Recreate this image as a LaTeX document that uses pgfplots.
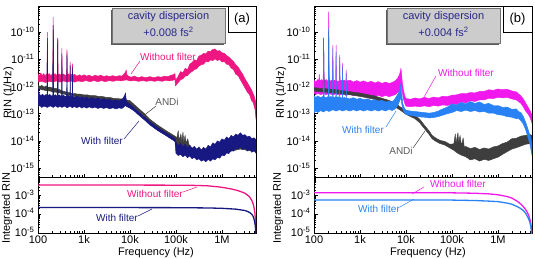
\documentclass[border=0pt]{standalone}
\usepackage{fontspec}
\setmainfont{Liberation Sans}
\usepackage{pgfplots}
\pgfplotsset{compat=1.18}

\definecolor{pinkA}{RGB}{238,22,128}
\definecolor{navyA}{RGB}{24,24,130}
\definecolor{andi}{RGB}{62,62,62}
\definecolor{magB}{RGB}{240,24,236}
\definecolor{blueB}{RGB}{40,130,245}
\definecolor{boxtext}{RGB}{40,40,140}
\definecolor{boxfill}{RGB}{204,204,204}

\pgfplotsset{
  every axis/.append style={
    scale only axis, width=218pt,
    axis line style={line width=0.8pt},
    tick pos=left, tick align=inside,
    major tick length=3.5pt, minor tick length=2pt,
    every tick/.append style={line width=0.5pt, black},
    tick label style={font=\fontsize{11}{12}\selectfont},
    xticklabel style={inner sep=2.4pt},
  },
}

\begin{document}
\begin{tikzpicture}
\useasboundingbox (0pt,0pt) rectangle (535pt,258pt);

% ---------------- panel (a): RIN spectra ----------------
\begin{axis}[at={(38pt,81pt)}, anchor=south west, height=171pt,
    xmode=log, ymode=log, xmin=100, xmax=5.5e6, ymin=4.7e-16, ymax=9.1e-10,
    xtick={1e2,1e3,1e4,1e5,1e6},
    minor xtick={200,300,400,500,600,700,800,900,2000,3000,4000,5000,6000,7000,8000,9000,
      2e4,3e4,4e4,5e4,6e4,7e4,8e4,9e4,2e5,3e5,4e5,5e5,6e5,7e5,8e5,9e5,2e6,3e6,4e6,5e6},
    xticklabels={},
    ytick={1e-15,1e-14,1e-13,1e-12,1e-11,1e-10},
    yticklabels={10\textsuperscript{-15},10\textsuperscript{-14},10\textsuperscript{-13},
      10\textsuperscript{-12},10\textsuperscript{-11},10\textsuperscript{-10}},
    minor ytick={5e-16,6e-16,7e-16,8e-16,9e-16,
      2e-15,3e-15,4e-15,5e-15,6e-15,7e-15,8e-15,9e-15,
      2e-14,3e-14,4e-14,5e-14,6e-14,7e-14,8e-14,9e-14,
      2e-13,3e-13,4e-13,5e-13,6e-13,7e-13,8e-13,9e-13,
      2e-12,3e-12,4e-12,5e-12,6e-12,7e-12,8e-12,9e-12,
      2e-11,3e-11,4e-11,5e-11,6e-11,7e-11,8e-11,9e-11,
      2e-10,3e-10,4e-10,5e-10,6e-10,7e-10,8e-10,9e-10}]
% without filter
\addplot[draw=pinkA, fill=pinkA, line width=0.45pt, line join=round] coordinates {
(100,3.0e-12)(107,2.4e-12)(115,3.1e-12)(124,2.5e-12)(133,3.0e-12)(143,2.4e-12)(152,2.9e-12)(157,2.6e-12)(160,1.0e-10)(163,2.6e-12)
(175,3.0e-12)(190,2.5e-12)(205,2.9e-12)(210,2.6e-12)(214,3.5e-10)(218,2.6e-12)(235,3.0e-12)(250,2.5e-12)(264,2.9e-12)(269,6.0e-11)(274,2.6e-12)
(295,2.9e-12)(315,2.5e-12)(325,2.8e-12)(331,2.5e-11)(337,2.6e-12)(360,2.9e-12)(390,2.5e-12)(420,2.8e-12)(427,2.3e-11)(434,2.6e-12)
(460,2.9e-12)(480,2.5e-12)(495,2.7e-12)(501,8.0e-12)(507,2.6e-12)(530,2.8e-12)(555,2.5e-12)(562,7.0e-12)(569,2.6e-12)
(620,2.8e-12)(700,2.4e-12)(800,2.7e-12)(900,2.4e-12)(1000,2.7e-12)(1150,2.4e-12)(1300,2.6e-12)(1500,2.3e-12)(1750,2.6e-12)(2000,2.4e-12)
(2300,2.6e-12)(2700,2.3e-12)(3100,2.5e-12)(3600,2.3e-12)(4200,2.5e-12)(5000,2.3e-12)(5800,2.5e-12)(6600,2.4e-12)(7300,2.8e-12)(7900,3.3e-12)
(8300,4.0e-12)(8500,2.8e-12)(9300,2.4e-12)(10500,2.2e-12)(12500,2.4e-12)(15000,2.1e-12)(18000,2.3e-12)(22000,2.1e-12)(27000,2.3e-12)
(33000,2.1e-12)(40000,2.3e-12)(48000,2.2e-12)(57000,2.4e-12)(67000,2.3e-12)(78000,2.6e-12)(88000,2.7e-12)(95000,3.0e-12)
(97700,1.66e-12)(112200,2.4e-12)(125900,3.55e-12)(141300,3.16e-12)(158500,4.68e-12)(177800,4.17e-12)(199500,6.61e-12)(223900,7.59e-12)
(251200,9.55e-12)(281800,8.91e-12)(316200,1.32e-11)(354800,1.41e-11)(398100,1.66e-11)(446700,1.58e-11)(501200,2.0e-11)(562300,1.91e-11)
(631000,2.29e-11)(707900,2.4e-11)(794300,2.0e-11)(891300,2.09e-11)(1.0e6,1.74e-11)(1.122e6,1.66e-11)(1.259e6,1.38e-11)(1.413e6,1.2e-11)
(1.585e6,1.0e-11)(1.778e6,8.32e-12)(1.995e6,6.31e-12)(2.239e6,5.25e-12)(2.512e6,3.8e-12)(2.818e6,2.82e-12)(3.162e6,1.91e-12)
(3.548e6,1.41e-12)(3.981e6,1.0e-12)(4.467e6,7.08e-13)(5.012e6,4.47e-13)(5.495e6,2.51e-13)
(5.495e6,6.31e-14)(5.248e6,1.41e-13)(4.786e6,2.51e-13)(4.365e6,3.16e-13)(3.981e6,5.01e-13)(3.548e6,6.31e-13)(3.162e6,8.91e-13)
(2.818e6,1.26e-12)(2.512e6,1.78e-12)(2.239e6,2.51e-12)(1.995e6,2.82e-12)(1.778e6,4.17e-12)(1.585e6,4.79e-12)(1.413e6,6.31e-12)
(1.259e6,6.61e-12)(1.122e6,8.32e-12)(1.0e6,7.94e-12)(891300,1.0e-11)(794300,8.91e-12)(707900,1.05e-11)(631000,8.91e-12)(562300,9.55e-12)
(501200,7.94e-12)(446700,8.32e-12)(398100,6.61e-12)(354800,6.31e-12)(316200,5.62e-12)(281800,4.47e-12)(251200,4.17e-12)(223900,3.55e-12)
(199500,3.16e-12)(177800,2.51e-12)(158500,2.4e-12)(141300,1.91e-12)(125900,1.78e-12)(112200,1.41e-12)(97700,1.05e-12)
(95000,1.8e-12)(86000,1.7e-12)(72000,1.6e-12)(60000,1.7e-12)(50000,1.55e-12)(41000,1.65e-12)(34000,1.55e-12)(28000,1.65e-12)
(23000,1.55e-12)(19000,1.65e-12)(15500,1.55e-12)(12500,1.65e-12)(10000,1.6e-12)(8500,1.75e-12)(7500,1.7e-12)(6300,1.6e-12)
(5200,1.7e-12)(4300,1.55e-12)(3500,1.65e-12)(2900,1.5e-12)(2400,1.65e-12)(2000,1.5e-12)(1650,1.65e-12)(1350,1.5e-12)(1100,1.65e-12)
(900,1.5e-12)(750,1.6e-12)(620,1.45e-12)(520,1.6e-12)(430,1.45e-12)(360,1.6e-12)(300,1.45e-12)(250,1.6e-12)(210,1.45e-12)
(175,1.55e-12)(145,1.4e-12)(120,1.55e-12)(100,1.45e-12)
};
% ANDi
\addplot[draw=andi, fill=andi, line width=0.45pt, line join=round] coordinates {
(100,1.15e-12)(110,1.0e-12)(120,1.1e-12)(135,0.95e-12)(150,1.05e-12)(157,0.95e-12)(160,4.0e-11)(163,0.95e-12)(185,0.95e-12)
(210,0.85e-12)(214,1.2e-10)(218,0.85e-12)(245,0.85e-12)(269,0.78e-12)(300,0.76e-12)(340,0.68e-12)(380,0.66e-12)(430,0.6e-12)
(490,0.6e-12)(560,0.55e-12)(640,0.55e-12)(740,0.52e-12)(850,0.52e-12)(1000,0.49e-12)(1200,0.49e-12)(1450,0.46e-12)(1750,0.46e-12)
(2100,0.43e-12)(2500,0.43e-12)(3000,0.4e-12)(3600,0.4e-12)(4300,0.37e-12)(5200,0.36e-12)(6300,0.35e-12)(7500,0.34e-12)(8500,0.32e-12)
(10000,3.0e-13)(12600,2.1e-13)(15800,1.5e-13)(20000,1.05e-13)(26900,6.3e-14)(40000,3.8e-14)(63000,2.3e-14)(95000,1.5e-14)
(105000,1.3e-14)(112000,2.4e-14)(117000,1.0e-14)(128000,1.8e-14)(134000,9e-15)(142000,2.1e-14)(148000,8.5e-15)(158000,1.6e-14)
(166000,8e-15)(180000,1.2e-14)(195000,6.5e-15)(250000,5e-15)(400000,4.5e-15)(1e6,7e-15)(2.5e6,1.1e-14)(5.495e6,9e-15)
(5.495e6,4e-15)(2.5e6,5e-15)(1e6,3.5e-15)(400000,2.5e-15)(250000,3e-15)(150000,4e-15)(100000,6e-15)(95000,1.15e-14)
(63000,1.8e-14)(40000,2.95e-14)(26900,4.9e-14)(20000,8.2e-14)(15800,1.15e-13)(12600,1.65e-13)(10000,2.2e-13)(8500,2.6e-13)
(7500,2.8e-13)(6300,2.8e-13)(5200,2.9e-13)(4300,3.0e-13)(3600,3.2e-13)(3000,3.2e-13)(2500,3.4e-13)(2100,3.4e-13)(1750,3.6e-13)
(1450,3.6e-13)(1200,3.9e-13)(1000,3.9e-13)(850,4.1e-13)(740,4.1e-13)(640,4.3e-13)(560,4.4e-13)(490,4.8e-13)(430,4.8e-13)
(380,5.2e-13)(340,5.2e-13)(300,5.8e-13)(269,5.8e-13)(245,6.2e-13)(210,6.2e-13)(185,6.8e-13)(150,7.0e-13)(135,7.4e-13)
(120,7.6e-13)(110,8.0e-13)(100,8.5e-13)
};
% with filter
\addplot[draw=navyA, fill=navyA, line width=0.45pt, line join=round] coordinates {
(100,8.0e-13)(103,6.0e-13)(108,5.2e-13)(115,4.6e-13)(125,5.2e-13)(137,4.5e-13)(150,5.1e-13)(157,4.6e-13)(160,6.0e-11)(163,4.7e-13)
(180,5.1e-13)(198,4.4e-13)(210,4.9e-13)(214,1.8e-10)(218,4.6e-13)(240,5.0e-13)(255,4.4e-13)(264,4.8e-13)(269,6.0e-11)(274,4.5e-13)
(295,4.9e-13)(315,4.3e-13)(325,4.7e-13)(331,1.6e-11)(337,4.4e-13)(360,4.8e-13)(390,4.2e-13)(420,4.6e-13)(427,1.6e-11)(434,4.3e-13)
(460,4.7e-13)(480,4.1e-13)(495,4.5e-13)(501,6.0e-12)(507,4.2e-13)(530,4.5e-13)(555,4.0e-13)(562,5.0e-12)(569,4.3e-13)
(620,4.0e-13)(700,4.4e-13)(800,3.9e-13)(900,4.2e-13)(1000,3.8e-13)(1150,4.1e-13)(1300,3.6e-13)(1500,3.9e-13)(1750,3.5e-13)
(2000,3.8e-13)(2300,3.3e-13)(2700,3.6e-13)(3100,3.2e-13)(3600,3.4e-13)(4200,3.0e-13)(5000,3.2e-13)(5800,2.9e-13)(6600,3.3e-13)
(7200,3.9e-13)(7700,4.8e-13)(8000,5.8e-13)(8150,4.0e-13)(8400,2.8e-13)(8900,2.6e-13)(10000,2.2e-13)(12600,1.6e-13)(15800,1.1e-13)
(20000,8.0e-14)(26900,5.0e-14)(40000,3.1e-14)(63000,1.9e-14)(95000,1.25e-14)
(100000,8.9e-15)(112200,6.5e-15)(125900,8.3e-15)(141300,6.0e-15)(158500,7.6e-15)(177800,5.5e-15)(199500,7.1e-15)(223900,5.2e-15)
(251200,6.3e-15)(281800,4.9e-15)(316200,6.0e-15)(354800,4.6e-15)(398100,5.8e-15)(446700,5.0e-15)(501200,6.9e-15)(562300,6.0e-15)
(631000,8.5e-15)(707900,7.5e-15)(794300,1.0e-14)(891300,9.0e-15)(1.0e6,1.2e-14)(1.122e6,1.05e-14)(1.259e6,1.4e-14)(1.413e6,1.2e-14)
(1.585e6,1.6e-14)(1.778e6,1.4e-14)(1.995e6,1.8e-14)(2.239e6,1.6e-14)(2.512e6,2.0e-14)(2.818e6,1.6e-14)(3.162e6,1.7e-14)(3.548e6,1.4e-14)
(3.981e6,1.5e-14)(4.467e6,1.2e-14)(5.012e6,1.3e-14)(5.495e6,1.1e-14)
(5.495e6,3.5e-15)(5.012e6,4.5e-15)(4.467e6,3.8e-15)(3.981e6,5.0e-15)(3.548e6,4.2e-15)(3.162e6,5.6e-15)(2.818e6,4.8e-15)(2.512e6,6.3e-15)
(2.239e6,5.0e-15)(1.995e6,5.5e-15)(1.778e6,4.2e-15)(1.585e6,4.5e-15)(1.413e6,3.4e-15)(1.259e6,3.6e-15)(1.122e6,2.8e-15)(1.0e6,3.0e-15)
(891300,2.3e-15)(794300,2.5e-15)(707900,2.0e-15)(631000,2.2e-15)(562300,1.8e-15)(501200,2.1e-15)(446700,1.7e-15)(398100,2.0e-15)
(354800,1.8e-15)(316200,2.2e-15)(281800,2.0e-15)(251200,2.5e-15)(223900,2.2e-15)(199500,2.8e-15)(177800,2.4e-15)(158500,3.0e-15)
(141300,2.6e-15)(125900,3.2e-15)(112200,2.9e-15)(100000,3.5e-15)
(95000,9.5e-15)(63000,1.5e-14)(40000,2.4e-14)(26900,3.9e-14)(20000,6.2e-14)(15800,8.6e-14)(12600,1.22e-13)(10000,1.6e-13)
(8900,1.75e-13)(8150,1.9e-13)(8000,2.1e-13)(7700,1.9e-13)(7200,1.7e-13)(6600,1.55e-13)(5800,1.65e-13)(5000,1.5e-13)(4200,1.65e-13)
(3600,1.5e-13)(3100,1.7e-13)(2700,1.55e-13)(2300,1.7e-13)(2000,1.55e-13)(1750,1.75e-13)(1500,1.6e-13)(1300,1.8e-13)(1150,1.6e-13)
(1000,1.8e-13)(900,1.6e-13)(800,1.85e-13)(700,1.65e-13)(620,1.85e-13)(560,1.65e-13)(500,1.9e-13)(430,1.65e-13)(380,1.9e-13)
(330,1.7e-13)(300,1.9e-13)(270,1.7e-13)(240,1.95e-13)(215,1.7e-13)(185,1.95e-13)(160,1.7e-13)(135,1.9e-13)(120,1.7e-13)
(110,2.0e-13)(100,1.8e-13)
};
\end{axis}

% ---------------- panel (a): integrated RIN ----------------
\begin{axis}[at={(38pt,25pt)}, anchor=south west, height=56pt,
    xmode=log, ymode=log, xmin=100, xmax=5.5e6, ymin=1e-5, ymax=1e-2,
    yticklabel style={yshift=1pt},
    xtick={1e2,1e3,1e4,1e5,1e6},
    minor xtick={200,300,400,500,600,700,800,900,2000,3000,4000,5000,6000,7000,8000,9000,
      2e4,3e4,4e4,5e4,6e4,7e4,8e4,9e4,2e5,3e5,4e5,5e5,6e5,7e5,8e5,9e5,2e6,3e6,4e6,5e6},
    xticklabels={100,1k,10k,100k,1M},
    ytick={1e-5,1e-4,1e-3},
    yticklabels={10\textsuperscript{-5},10\textsuperscript{-4},10\textsuperscript{-3}},
    minor ytick={2e-5,3e-5,4e-5,5e-5,6e-5,7e-5,8e-5,9e-5,
      2e-4,3e-4,4e-4,5e-4,6e-4,7e-4,8e-4,9e-4,
      2e-3,3e-3,4e-3,5e-3,6e-3,7e-3,8e-3,9e-3}]
\addplot[draw=pinkA, line width=1.3pt] coordinates {
(100,3.7e-3)(1000,3.7e-3)(10000,3.7e-3)(100000,3.65e-3)(200000,3.6e-3)(316000,3.5e-3)(500000,3.35e-3)(800000,3.0e-3)
(1e6,2.8e-3)(1.58e6,2.3e-3)(2e6,2.0e-3)(2.5e6,1.7e-3)(3.16e6,1.35e-3)(3.55e6,1.1e-3)(4e6,8.5e-4)(4.47e6,5.5e-4)(4.8e6,3.5e-4)
(5.0e6,2.2e-4)(5.2e6,1.2e-4)(5.35e6,5e-5)(5.45e6,1.5e-5)(5.5e6,5e-6)
};
\addplot[draw=navyA, line width=1.3pt] coordinates {
(100,2.3e-4)(10000,2.3e-4)(100000,2.28e-4)(500000,2.2e-4)(1e6,2.1e-4)(2e6,1.9e-4)(3.16e6,1.6e-4)(3.55e6,1.45e-4)(4e6,1.25e-4)
(4.47e6,1.0e-4)(4.8e6,7.5e-5)(5.1e6,4.5e-5)(5.3e6,2.5e-5)(5.45e6,1.0e-5)(5.5e6,5e-6)
};
\end{axis}

% ---------------- panel (b): RIN spectra ----------------
\begin{axis}[at={(314pt,81pt)}, anchor=south west, height=171pt,
    xmode=log, ymode=log, xmin=100, xmax=5.5e6, ymin=4.7e-16, ymax=9.1e-10,
    xtick={1e2,1e3,1e4,1e5,1e6},
    minor xtick={200,300,400,500,600,700,800,900,2000,3000,4000,5000,6000,7000,8000,9000,
      2e4,3e4,4e4,5e4,6e4,7e4,8e4,9e4,2e5,3e5,4e5,5e5,6e5,7e5,8e5,9e5,2e6,3e6,4e6,5e6},
    xticklabels={},
    ytick={1e-15,1e-14,1e-13,1e-12,1e-11,1e-10},
    yticklabels={10\textsuperscript{-15},10\textsuperscript{-14},10\textsuperscript{-13},
      10\textsuperscript{-12},10\textsuperscript{-11},10\textsuperscript{-10}},
    minor ytick={5e-16,6e-16,7e-16,8e-16,9e-16,
      2e-15,3e-15,4e-15,5e-15,6e-15,7e-15,8e-15,9e-15,
      2e-14,3e-14,4e-14,5e-14,6e-14,7e-14,8e-14,9e-14,
      2e-13,3e-13,4e-13,5e-13,6e-13,7e-13,8e-13,9e-13,
      2e-12,3e-12,4e-12,5e-12,6e-12,7e-12,8e-12,9e-12,
      2e-11,3e-11,4e-11,5e-11,6e-11,7e-11,8e-11,9e-11,
      2e-10,3e-10,4e-10,5e-10,6e-10,7e-10,8e-10,9e-10}]
% without filter
\addplot[draw=magB, fill=magB, line width=0.45pt, line join=round] coordinates {
(100,1.7e-12)(110,1.45e-12)(120,1.8e-12)(127,1.5e-12)(130,2.8e-12)(133,1.55e-12)(145,1.8e-12)(158,1.5e-12)(162,5.5e-11)(166,1.6e-12)
(185,1.8e-12)(205,1.5e-12)(209,5.6e-10)(213,1.65e-12)(235,1.6e-12)(252,1.8e-12)(257,3.3e-11)(262,1.55e-12)(280,1.7e-12)(297,1.5e-12)
(302,3.3e-11)(307,1.65e-12)(335,1.5e-12)(357,1.7e-12)(363,1.4e-11)(369,1.5e-12)(395,1.7e-12)(411,1.45e-12)(417,7.1e-12)(423,1.6e-12)
(460,1.7e-12)(494,1.45e-12)(501,4.0e-12)(508,1.6e-12)(600,1.7e-12)(720,1.45e-12)(850,1.65e-12)(1000,1.45e-12)(1200,1.6e-12)
(1450,1.4e-12)(1750,1.55e-12)(2100,1.35e-12)(2500,1.5e-12)(3000,1.3e-12)(3600,1.45e-12)(4300,1.3e-12)(5000,1.4e-12)(5800,1.6e-12)
(6600,2.0e-12)(7200,2.7e-12)(7600,3.7e-12)(7760,4.7e-12)(7950,3.4e-12)(8300,1.5e-12)(8800,7.5e-13)(9400,4.5e-13)
(10000,3.6e-13)(12600,3.4e-13)(15800,3.8e-13)(20000,3.5e-13)(25100,4.0e-13)(31600,3.6e-13)(39800,4.1e-13)(50100,3.8e-13)
(63100,4.4e-13)(79400,4.2e-13)(100000,4.8e-13)(125900,4.9e-13)(158500,5.5e-13)(199500,5.4e-13)(251200,6.0e-13)(316200,5.8e-13)
(398100,6.6e-13)(501200,6.6e-13)(631000,7.6e-13)(794300,7.2e-13)(1.0e6,8.1e-13)(1.259e6,7.6e-13)(1.585e6,7.9e-13)(1.995e6,6.9e-13)
(2.512e6,6.3e-13)(3.162e6,4.5e-13)(3.548e6,3.5e-13)(3.981e6,2.5e-13)(4.467e6,1.8e-13)(5.012e6,1.26e-13)(5.495e6,8.9e-14)
(5.495e6,4.5e-14)(5.012e6,7.1e-14)(4.467e6,1.0e-13)(3.981e6,1.26e-13)(3.548e6,1.8e-13)(3.162e6,2.4e-13)(2.512e6,3.2e-13)
(1.995e6,3.5e-13)(1.585e6,4.0e-13)(1.259e6,3.8e-13)(1.0e6,4.0e-13)(794300,3.6e-13)(631000,3.7e-13)(501200,3.2e-13)(398100,3.2e-13)
(316200,2.8e-13)(251200,3.0e-13)(199500,2.5e-13)(158500,2.7e-13)(125900,2.2e-13)(100000,2.3e-13)(79400,2.0e-13)(63100,2.1e-13)
(50100,1.9e-13)(39800,2.0e-13)(31600,1.8e-13)(25100,1.95e-13)(20000,1.8e-13)(15800,1.9e-13)(12600,1.8e-13)(10000,1.9e-13)
(9400,2.4e-13)(8800,3.5e-13)(8300,6.5e-13)(7950,1.2e-12)(7760,9.5e-13)(7200,7.0e-13)(6600,6.0e-13)
(5800,5.0e-13)(5000,4.6e-13)(4300,4.2e-13)(3600,4.7e-13)(3000,4.2e-13)(2500,4.8e-13)(2100,4.3e-13)(1750,4.9e-13)(1450,4.4e-13)
(1200,5.0e-13)(1000,4.5e-13)(850,5.1e-13)(720,4.6e-13)(600,5.2e-13)(500,4.7e-13)(420,5.3e-13)(360,4.8e-13)(300,5.4e-13)
(260,4.9e-13)(210,5.5e-13)(185,5.0e-13)(160,5.6e-13)(140,5.0e-13)(120,5.7e-13)(110,5.1e-13)(100,5.6e-13)
};
% ANDi
\addplot[draw=andi, fill=andi, line width=0.45pt, line join=round] coordinates {
(100,9.1e-13)(130,8.6e-13)(158,8.6e-13)(162,6.2e-11)(166,8.4e-13)(205,8.1e-13)(209,1.0e-10)(213,8.0e-13)(260,7.8e-13)(316,7.6e-13)
(400,7.1e-13)(500,6.7e-13)(630,6.4e-13)(800,6.0e-13)(1000,5.75e-13)(1260,5.3e-13)(1580,4.9e-13)(2000,4.6e-13)(2500,4.1e-13)
(3162,3.6e-13)(4000,3.2e-13)(5000,2.75e-13)(6800,2.0e-13)(8000,1.65e-13)(10000,1.3e-13)(15800,8.7e-14)(20000,6.2e-14)
(25700,3.6e-14)(32000,2.3e-14)(37000,1.6e-14)(45000,1.25e-14)(55000,1.05e-14)(70000,9.5e-15)(90000,7.5e-15)(110000,7.8e-15)
(118000,1.8e-14)(122000,8e-15)(135000,2.0e-14)(140000,8e-15)(150000,1.6e-14)(160000,6.5e-15)(175000,1.3e-14)(185000,6e-15)
(200000,6.2e-15)(251000,5.2e-15)(316000,5.8e-15)(398000,4.8e-15)(501000,5.5e-15)(631000,5.0e-15)(794000,6.0e-15)(1e6,6.5e-15)
(1.26e6,8e-15)(1.58e6,9e-15)(2e6,1.2e-14)(2.5e6,1.25e-14)(3.16e6,1.5e-14)(3.98e6,1.6e-14)(5.0e6,1.7e-14)(5.495e6,1.6e-14)
(5.495e6,8e-15)(5.0e6,8e-15)(3.98e6,7.5e-15)(3.16e6,6.5e-15)(2.5e6,5.6e-15)(2e6,5e-15)(1.58e6,4e-15)(1.26e6,3.2e-15)(1e6,2.5e-15)
(794000,2.2e-15)(631000,1.9e-15)(501000,2.1e-15)(398000,1.8e-15)(316000,2.2e-15)(251000,2.0e-15)(200000,2.6e-15)(160000,3.0e-15)
(130000,3.6e-15)(110000,4.5e-15)(90000,5.5e-15)(70000,7.0e-15)(55000,8.0e-15)(45000,9.5e-15)(37000,1.2e-14)(32000,1.7e-14)
(25700,2.7e-14)(20000,4.6e-14)(15800,6.5e-14)(10000,9.5e-14)(8000,1.25e-13)(6800,1.5e-13)(5000,2.0e-13)(4000,2.35e-13)
(3162,2.7e-13)(2500,3.0e-13)(2000,3.4e-13)(1580,3.7e-13)(1260,4.0e-13)(1000,4.3e-13)(800,4.6e-13)(630,4.9e-13)(500,5.1e-13)
(400,5.4e-13)(316,5.6e-13)(260,5.8e-13)(200,6.1e-13)(160,6.3e-13)(130,6.5e-13)(100,6.8e-13)
};
% with filter
\addplot[draw=blueB, fill=blueB, line width=0.45pt, line join=round] coordinates {
(100,4.6e-13)(110,3.9e-13)(120,4.5e-13)(140,3.9e-13)(158,4.4e-13)(162,5.9e-11)(166,4.2e-13)(185,3.8e-13)(205,4.4e-13)(209,1.38e-10)
(213,4.0e-13)(235,4.3e-13)(253,3.8e-13)(257,2.5e-11)(261,4.2e-13)(280,3.8e-13)(298,4.3e-13)(302,1.9e-11)(306,3.9e-13)(335,4.2e-13)
(359,3.8e-13)(363,9.3e-12)(367,4.1e-13)(395,3.7e-13)(413,4.0e-13)(417,5.4e-12)(421,3.7e-13)(460,4.0e-13)(496,3.5e-13)(501,3.0e-12)
(506,3.8e-13)(600,3.5e-13)(720,3.9e-13)(850,3.4e-13)(1000,3.7e-13)(1200,3.3e-13)(1450,3.5e-13)(1750,3.1e-13)(2100,3.3e-13)
(2500,2.9e-13)(3000,3.1e-13)(3600,2.7e-13)(4300,2.9e-13)(5000,2.7e-13)(5600,3.3e-13)(6200,4.3e-13)(6800,5.6e-13)(7300,7.8e-13)
(7760,1.3e-12)(8000,6.5e-13)(8500,2.4e-13)(9200,1.6e-13)(10000,1.35e-13)(12600,1.25e-13)(15800,1.2e-13)(20000,1.15e-13)
(25100,1.1e-13)(31600,1.05e-13)(39800,1.1e-13)(50100,1.25e-13)(63100,1.5e-13)(79400,1.75e-13)(100000,2.3e-13)(125900,2.1e-13)
(158500,2.6e-13)(199500,2.3e-13)(251200,2.8e-13)(316200,2.4e-13)(398100,2.7e-13)(501200,2.2e-13)(631000,2.4e-13)(794300,2.0e-13)
(1e6,2.0e-13)(1.259e6,1.7e-13)(1.585e6,1.75e-13)(1.995e6,1.45e-13)(2.512e6,1.5e-13)(2.818e6,1.2e-13)(3.162e6,1.1e-13)
(3.548e6,8e-14)(3.981e6,5e-14)(4.467e6,2.8e-14)(5.012e6,1.5e-14)(5.495e6,8e-15)
(5.495e6,3e-15)(5.012e6,7e-15)(4.467e6,1.4e-14)(3.981e6,2.6e-14)(3.548e6,4.2e-14)(3.162e6,5.5e-14)(2.818e6,6.6e-14)(2.512e6,6.5e-14)
(1.995e6,7.4e-14)(1.585e6,7.8e-14)(1.259e6,8.8e-14)(1e6,9.2e-14)(794300,1.05e-13)(631000,1.05e-13)(501200,1.2e-13)(398100,1.15e-13)
(316200,1.3e-13)(251200,1.2e-13)(199500,1.35e-13)(158500,1.2e-13)(125900,1.3e-13)(100000,1.1e-13)(79400,1.0e-13)(63100,8.8e-14)
(50100,7.8e-14)(39800,7.2e-14)(31600,7.0e-14)(25100,7.4e-14)(20000,7.6e-14)(15800,8.1e-14)(12600,8.7e-14)(10000,9.5e-14)
(9200,1.1e-13)(8500,1.5e-13)(8000,2.5e-13)(7760,4.0e-13)(7300,3.0e-13)(6800,2.2e-13)(6200,1.7e-13)(5600,1.45e-13)(5000,1.3e-13)
(4300,1.45e-13)(3600,1.25e-13)(3000,1.4e-13)(2500,1.25e-13)(2100,1.4e-13)(1750,1.25e-13)(1450,1.4e-13)(1200,1.25e-13)(1000,1.4e-13)
(850,1.25e-13)(720,1.4e-13)(600,1.25e-13)(500,1.4e-13)(420,1.25e-13)(360,1.4e-13)(300,1.25e-13)(260,1.4e-13)(210,1.2e-13)
(185,1.35e-13)(160,1.15e-13)(140,1.3e-13)(120,1.1e-13)(110,1.25e-13)(100,1.05e-13)
};
\end{axis}

% ---------------- panel (b): integrated RIN ----------------
\begin{axis}[at={(314pt,25pt)}, anchor=south west, height=56pt,
    xmode=log, ymode=log, xmin=100, xmax=5.5e6, ymin=1e-5, ymax=1e-2,
    yticklabel style={yshift=1pt},
    xtick={1e2,1e3,1e4,1e5,1e6},
    minor xtick={200,300,400,500,600,700,800,900,2000,3000,4000,5000,6000,7000,8000,9000,
      2e4,3e4,4e4,5e4,6e4,7e4,8e4,9e4,2e5,3e5,4e5,5e5,6e5,7e5,8e5,9e5,2e6,3e6,4e6,5e6},
    xticklabels={100,1k,10k,100k,1M},
    ytick={1e-5,1e-4,1e-3},
    yticklabels={10\textsuperscript{-5},10\textsuperscript{-4},10\textsuperscript{-3}},
    minor ytick={2e-5,3e-5,4e-5,5e-5,6e-5,7e-5,8e-5,9e-5,
      2e-4,3e-4,4e-4,5e-4,6e-4,7e-4,8e-4,9e-4,
      2e-3,3e-3,4e-3,5e-3,6e-3,7e-3,8e-3,9e-3}]
\addplot[draw=magB, line width=1.3pt] coordinates {
(100,1.45e-3)(10000,1.45e-3)(100000,1.42e-3)(316000,1.35e-3)(631000,1.25e-3)(1e6,1.12e-3)(1.58e6,9e-4)(2e6,7.5e-4)(2.7e6,4.8e-4)
(3.16e6,3.5e-4)(3.55e6,2.6e-4)(4e6,1.8e-4)(4.27e6,1.4e-4)(4.6e6,9.5e-5)(4.9e6,6e-5)(5.15e6,3.5e-5)(5.35e6,1.8e-5)(5.45e6,8e-6)(5.5e6,3e-6)
};
\addplot[draw=blueB, line width=1.3pt] coordinates {
(100,5.9e-4)(10000,5.9e-4)(100000,5.8e-4)(316000,5.5e-4)(631000,5.1e-4)(1e6,4.8e-4)(1.58e6,4.0e-4)(2e6,3.5e-4)(2.7e6,2.5e-4)
(3.16e6,2.0e-4)(3.55e6,1.6e-4)(4e6,1.15e-4)(4.27e6,8.5e-5)(4.6e6,6e-5)(4.9e6,4e-5)(5.15e6,2.4e-5)(5.35e6,1.3e-5)(5.45e6,6e-6)(5.5e6,3e-6)
};
\end{axis}

% ---------------- axis titles ----------------
\begin{scope}[x=1pt, y=1pt, font=\fontsize{11}{12}\selectfont]
\node[rotate=90] at (8.5,165) {RIN (1/Hz)};
\node[rotate=90] at (7,50) {Integrated RIN};
\node[rotate=90] at (281,165) {RIN (1/Hz)};
\node[rotate=90] at (278,50) {Integrated RIN};
\node[inner sep=0pt, anchor=base] at (156,2.5) {Frequency (Hz)};
\node[inner sep=0pt, anchor=base] at (428,2.5) {Frequency (Hz)};
\end{scope}

% ---------------- curve annotations ----------------
\begin{scope}[x=1pt, y=1pt, font=\fontsize{10}{11}\selectfont, line width=0.5pt]
\node[text=pinkA] at (168,201) {Without filter};
\draw[pinkA] (140,197) -- (131,184);
\node[text=andi!85] at (167,156) {ANDi};
\draw[andi] (156,152) -- (142,141);
\node[text=navyA] at (102,117) {With filter};
\draw[navyA] (124,119) -- (139,137);
\node[text=pinkA] at (155,64) {Without filter};
\draw[pinkA] (183,66) -- (197,71);
\node[text=navyA] at (117,40) {With filter};
\draw[navyA] (138,42) -- (152,49);

\node[text=magB] at (466,185) {Without filter};
\draw[magB] (436,182) -- (424,161);
\node[text=blueB] at (363,128) {With filter};
\draw[blueB] (386,131) -- (396,147);
\node[text=andi!85] at (401,107) {ANDi};
\draw[andi] (413,110) -- (425,127);
\node[text=magB] at (458,74) {Without filter};
\draw[magB] (424,71) -- (412,64);
\node[text=blueB] at (379,49) {With filter};
\draw[blueB] (400,51) -- (414,59);
\end{scope}

% ---------------- dispersion boxes and panel tags ----------------
\begin{scope}[x=1pt, y=1pt]
\fill[black!65] (110.5,213.5) rectangle (223.5,248.5);
\filldraw[fill=boxfill, draw=black!55, line width=0.5pt] (112,215) rectangle (225,250);
\node[text=boxtext, font=\fontsize{11}{12}\selectfont] at (168.5,241) {cavity dispersion};
\node[text=boxtext, font=\fontsize{11}{12}\selectfont] at (168.5,226) {+0.008 fs\textsuperscript{2}};
\filldraw[fill=white, draw=black, line width=0.6pt] (228,226) rectangle (256,252);
\node[font=\fontsize{13}{14}\selectfont] at (242,239) {(a)};

\fill[black!65] (385.5,213.5) rectangle (498.5,248.5);
\filldraw[fill=boxfill, draw=black!55, line width=0.5pt] (387,215) rectangle (500,250);
\node[text=boxtext, font=\fontsize{11}{12}\selectfont] at (443.5,241) {cavity dispersion};
\node[text=boxtext, font=\fontsize{11}{12}\selectfont] at (443.5,226) {+0.004 fs\textsuperscript{2}};
\filldraw[fill=white, draw=black, line width=0.6pt] (503,226) rectangle (532,252);
\node[font=\fontsize{13}{14}\selectfont] at (517.5,239) {(b)};
\end{scope}
\end{tikzpicture}
\end{document}
